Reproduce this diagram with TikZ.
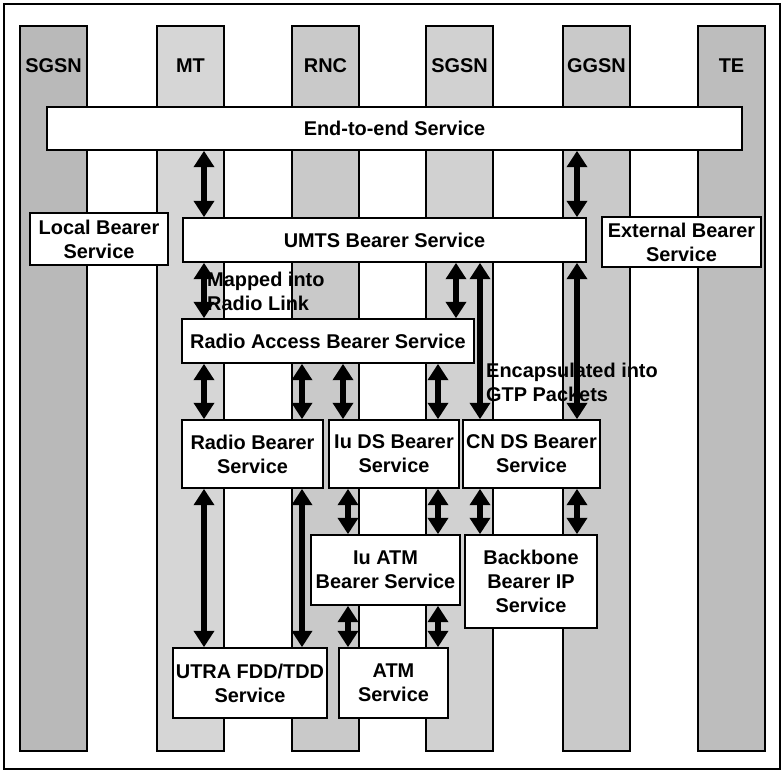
\documentclass[tikz,border=0pt]{standalone}
\usepackage{fontspec}
\setmainfont{Liberation Sans}
\usetikzlibrary{arrows.meta, positioning}

\begin{document}
\begin{tikzpicture}[
  x=0.03cm, y=-0.03cm,
  box/.style       = {rectangle, draw=black, line width=1.4pt, fill=white,
                      align=center, inner sep=0pt,
                      font=\bfseries\fontsize{17}{20.5}\selectfont},
  lanelabel/.style = {font=\bfseries\fontsize{17}{20.5}\selectfont},
  note/.style      = {anchor=west, align=left, inner sep=0pt,
                      font=\bfseries\fontsize{17}{20.5}\selectfont},
  arrow/.style     = {<->, >={Triangle[width=17pt,length=14pt]}, line width=5pt},
]

% Frame
\useasboundingbox (0,0) rectangle (782,771);
\draw[line width=1pt] (4,4) rectangle (780,769);

% Lanes
\foreach \id/\name/\xl/\shade in {sgsnA/SGSN/20/55, mtl/MT/157/32, rncl/RNC/292/42,
                                  sgsnB/SGSN/426/36, ggsnl/GGSN/563/42, tel/TE/698/52} {
  \filldraw[fill=gray!\shade, line width=1.3pt] (\xl,26) rectangle (\xl+67,751);
  \node[lanelabel] (\id) at (\xl+33.5,66) {\name};
}

% Nodes
\node[box, minimum width=20.85cm, minimum height=1.29cm] (e2e)   at (394.5,128.5) {End-to-end Service};
\node[box, minimum width=4.14cm,  minimum height=1.56cm] (local) at (99,239)      {Local Bearer\\Service};
\node[box, minimum width=12.09cm, minimum height=1.32cm] (umts)  at (384.5,240)   {UMTS Bearer Service};
\node[box, minimum width=4.77cm,  minimum height=1.5cm]  (ext)   at (681.5,242)   {External Bearer\\Service};
\node[box, minimum width=8.76cm,  minimum height=1.32cm] (rab)   at (328,341)     {Radio Access Bearer Service};
\node[box, minimum width=4.23cm,  minimum height=2.04cm] (rb)    at (252.5,454)   {Radio Bearer\\Service};
\node[box, minimum width=3.9cm,   minimum height=2.04cm] (iuds)  at (394,454)     {Iu DS Bearer\\Service};
\node[box, minimum width=4.11cm,  minimum height=2.04cm] (cnds)  at (531.5,454)   {CN DS Bearer\\Service};
\node[box, minimum width=4.47cm,  minimum height=2.1cm]  (iuatm) at (385.5,570)   {Iu ATM\\Bearer Service};
\node[box, minimum width=3.96cm,  minimum height=2.79cm] (bbip)  at (531,581.5)   {Backbone\\Bearer IP\\Service};
\node[box, minimum width=4.62cm,  minimum height=2.1cm]  (utra)  at (250,683)     {UTRA FDD/TDD\\Service};
\node[box, minimum width=3.27cm,  minimum height=2.1cm]  (atm)   at (393.5,683)   {ATM\\Service};

% Arrow columns
\coordinate (mt)   at (204,0);
\coordinate (rncL) at (302,0);
\coordinate (rncR) at (343,0);
\coordinate (rncS) at (348,0);
\coordinate (sgA)  at (438,0);
\coordinate (sgB)  at (456,0);
\coordinate (sgC)  at (480,0);
\coordinate (gg)   at (577,0);

% Arrows
\draw[arrow] (e2e.south -| mt)   -- (umts.north -| mt);
\draw[arrow] (e2e.south -| gg)   -- (umts.north -| gg);
\draw[arrow] (umts.south -| mt)  -- (rab.north -| mt);
\draw[arrow] (umts.south -| sgB) -- (rab.north -| sgB);
\draw[arrow] (umts.south -| sgC) -- (cnds.north -| sgC);
\draw[arrow] (umts.south -| gg)  -- (cnds.north -| gg);
\draw[arrow] (rab.south -| mt)   -- (rb.north -| mt);
\draw[arrow] (rab.south -| rncL) -- (rb.north -| rncL);
\draw[arrow] (rab.south -| rncR) -- (iuds.north -| rncR);
\draw[arrow] (rab.south -| sgA)  -- (iuds.north -| sgA);
\draw[arrow] (rb.south -| mt)    -- (utra.north -| mt);
\draw[arrow] (rb.south -| rncL)  -- (utra.north -| rncL);
\draw[arrow] (iuds.south -| rncS) -- (iuatm.north -| rncS);
\draw[arrow] (iuds.south -| sgA)  -- (iuatm.north -| sgA);
\draw[arrow] (cnds.south -| sgC)  -- (bbip.north -| sgC);
\draw[arrow] (cnds.south -| gg)   -- (bbip.north -| gg);
\draw[arrow] (iuatm.south -| rncS) -- (atm.north -| rncS);
\draw[arrow] (iuatm.south -| sgA)  -- (atm.north -| sgA);

% Arrow notes
\node[note] (mapped) at (207,291) {Mapped into\\Radio Link};
\node[note] (gtp)    at (486,382) {Encapsulated into\\GTP Packets};
\end{tikzpicture}
\end{document}
